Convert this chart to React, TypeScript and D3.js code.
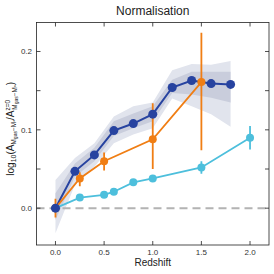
import * as d3 from 'd3';

// dark blue model with 1σ / 2σ bands
const modelZ = [0, 0.2, 0.4, 0.6, 0.8, 1.0, 1.2, 1.4, 1.6, 1.8];
const modelVal = [0, 0.047, 0.068, 0.099, 0.108, 0.120, 0.154, 0.163, 0.159, 0.158];
const innerLo = [-0.015, 0.040, 0.060, 0.092, 0.102, 0.111, 0.147, 0.145, 0.141, 0.135];
const innerHi = [0.019, 0.057, 0.077, 0.111, 0.121, 0.130, 0.164, 0.174, 0.174, 0.174];
const outerLo = [-0.032, 0.030, 0.053, 0.083, 0.094, 0.102, 0.140, 0.130, 0.120, 0.104];
const outerHi = [0.036, 0.064, 0.083, 0.117, 0.130, 0.135, 0.176, 0.184, 0.183, 0.188];

// orange points
const orangeZ = [0, 0.25, 0.5, 1.0, 1.5];
const orangeVal = [0, 0.038, 0.060, 0.088, 0.161];
const orangeLo = [-0.012, 0.028, 0.048, 0.050, 0.074];
const orangeHi = [0.012, 0.046, 0.071, 0.134, 0.224];

// cyan points
const cyanZ = [0, 0.25, 0.5, 0.6, 0.8, 1.0, 1.5, 2.0];
const cyanVal = [0, 0.0135, 0.017, 0.021, 0.033, 0.038, 0.052, 0.090];
const cyanLo = [0, 0.0135, 0.017, 0.021, 0.033, 0.034, 0.044, 0.075];
const cyanHi = [0, 0.0135, 0.017, 0.021, 0.033, 0.042, 0.060, 0.105];

const xTicks = [0, 0.5, 1.0, 1.5, 2.0];
const yTicks = [0, 0.1, 0.2];
const yMinorTicks = [0.05, 0.15];

const W = 274, H = 274;
const margin = { top: 22.5, right: 5, bottom: 29, left: 36.5 };
const FONT = 'Liberation Sans, Arial, sans-serif';

const C_BLUE = '#2743a0';
const C_ORANGE = '#f07e14';
const C_CYAN = '#4dbfdc';

export default function App() {
  const x = d3.scaleLinear().domain([-0.195, 2.195]).range([margin.left, W - margin.right]);
  const y = d3.scaleLinear().domain([-0.047, 0.237]).range([H - margin.bottom, margin.top]);

  const band = (lo: number[], hi: number[]) =>
    d3.area<number>()
      .x((_, i) => x(modelZ[i]))
      .y0((_, i) => y(lo[i]))
      .y1((_, i) => y(hi[i]))(modelZ) || '';

  const line = (zs: number[], vs: number[]) =>
    d3.line<number>().x((_, i) => x(zs[i])).y((_, i) => y(vs[i]))(zs) || '';

  const x0 = margin.left, x1 = W - margin.right, y0 = H - margin.bottom, y1 = margin.top;
  const tk = 4;

  return (
    <svg width={W} height={H} style={{ position: 'absolute', left: 0, top: 0, background: '#fff' }}
      fontFamily={FONT}>
      <defs>
        <clipPath id="plot"><rect x={x0} y={y1} width={x1 - x0} height={y0 - y1} /></clipPath>
      </defs>

      <g clipPath="url(#plot)">
        <path d={band(outerLo, outerHi)} fill="#e1e4ed" />
        <path d={band(innerLo, innerHi)} fill="#c9cddc" />
        <line x1={x0} x2={x1} y1={y(0)} y2={y(0)} stroke="#b3b3b3" strokeWidth={2} strokeDasharray="8,5" />

        {/* cyan */}
        <path d={line(cyanZ, cyanVal)} fill="none" stroke={C_CYAN} strokeWidth={1.8} />
        {cyanZ.map((z, i) => (
          <g key={'c' + i}>
            <line x1={x(z)} x2={x(z)} y1={y(cyanLo[i])} y2={y(cyanHi[i])} stroke={C_CYAN} strokeWidth={1.8} />
            <circle cx={x(z)} cy={y(cyanVal[i])} r={4} fill={C_CYAN} />
          </g>
        ))}

        {/* dark blue line */}
        <path d={line(modelZ, modelVal)} fill="none" stroke={C_BLUE} strokeWidth={2} />

        {/* orange */}
        <path d={line(orangeZ, orangeVal)} fill="none" stroke={C_ORANGE} strokeWidth={1.8} />
        {orangeZ.map((z, i) => (
          <g key={'o' + i}>
            <line x1={x(z)} x2={x(z)} y1={y(orangeLo[i])} y2={y(orangeHi[i])} stroke={C_ORANGE} strokeWidth={1.8} />
            <circle cx={x(z)} cy={y(orangeVal[i])} r={4} fill={C_ORANGE} />
          </g>
        ))}

        {/* dark blue markers */}
        {modelZ.map((z, i) => (
          <circle key={'b' + i} cx={x(z)} cy={y(modelVal[i])} r={4.5} fill={C_BLUE} />
        ))}
      </g>

      {/* frame */}
      <rect x={x0} y={y1} width={x1 - x0} height={y0 - y1} fill="none" stroke="#222" strokeWidth={0.8} />

      {/* ticks */}
      {xTicks.map(t => (
        <g key={'xt' + t}>
          <line x1={x(t)} x2={x(t)} y1={y0} y2={y0 - tk} stroke="#222" strokeWidth={0.8} />
          <line x1={x(t)} x2={x(t)} y1={y1} y2={y1 + tk} stroke="#222" strokeWidth={0.8} />
          <text x={x(t)} y={y0 + 10} fontSize={8} textAnchor="middle" fill="#333">{t.toFixed(1)}</text>
        </g>
      ))}
      {yTicks.concat(yMinorTicks).map(t => (
        <g key={'yt' + t}>
          <line x1={x0} x2={x0 + tk} y1={y(t)} y2={y(t)} stroke="#222" strokeWidth={0.8} />
          <line x1={x1} x2={x1 - tk} y1={y(t)} y2={y(t)} stroke="#222" strokeWidth={0.8} />
        </g>
      ))}
      {yTicks.map(t => (
        <text key={'yl' + t} x={x0 - 4.5} y={y(t) + 3} fontSize={8} textAnchor="end" fill="#333">{t.toFixed(1)}</text>
      ))}

      {/* labels */}
      <text x={(x0 + x1) / 2} y={15} fontSize={12} textAnchor="middle" fill="#222">Normalisation</text>
      <text x={(x0 + x1) / 2} y={266} fontSize={10} textAnchor="middle" fill="#222">Redshift</text>
      <text transform={`translate(13.5,${(y0 + y1) / 2 - 5}) rotate(-90)`} fontSize={10} textAnchor="middle" fill="#222">
        log<tspan fontSize={7} dy={2}>10</tspan>
        <tspan dy={-2}>(A</tspan>
        <tspan fontSize={6.5} dy={2}>M</tspan>
        <tspan fontSize={5} dy={1}>gas</tspan>
        <tspan fontSize={6.5} dy={-1}>−M</tspan>
        <tspan fontSize={5} dy={1}>*</tspan>
        <tspan dy={-3}>/A</tspan>
        <tspan fontSize={6.5} dy={-3.5}>z=0</tspan>
        <tspan fontSize={6.5} dx={-10} dy={6.5}>M</tspan>
        <tspan fontSize={5} dy={1}>gas</tspan>
        <tspan fontSize={6.5} dy={-1}>−M</tspan>
        <tspan fontSize={5} dy={1}>*</tspan>
        <tspan dy={-4}>)</tspan>
      </text>
    </svg>
  );
}
